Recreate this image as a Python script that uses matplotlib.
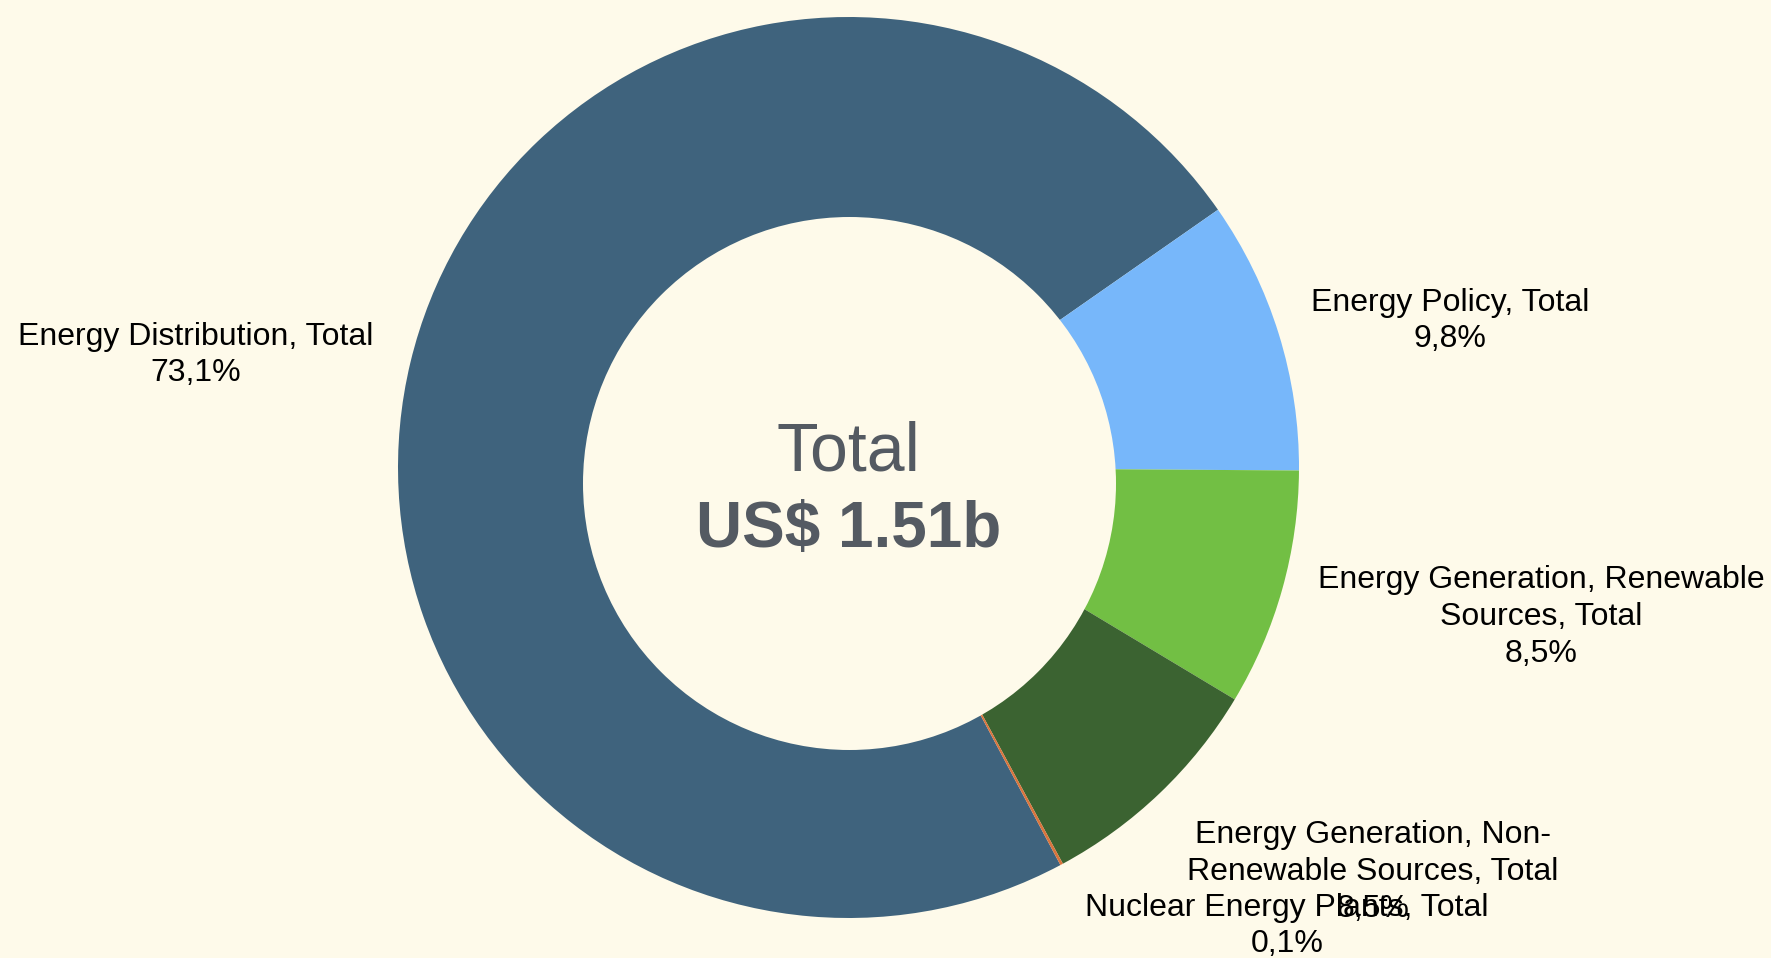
"""
Donut chart: energy spending breakdown, total US$ 1.51b.
"""

import textwrap
import matplotlib
matplotlib.use("Agg")
import matplotlib.pyplot as plt
from matplotlib.patches import Circle

# Data
categories = [
    "Energy Distribution, Total",
    "Energy Policy, Total",
    "Energy Generation, Renewable Sources, Total",
    "Energy Generation, Non-Renewable Sources, Total",
    "Nuclear Energy Plants, Total",
]
shares = [73.1, 9.8, 8.5, 8.5, 0.1]  # percent
total_label = "US$ 1.51b"

# Style constants
W, H = 1771, 958
BG_COLOR = "#fefaea"
SLICE_COLORS = ["#3f637d", "#77b7fa", "#72bf44", "#3b6331", "#d9743d"]
CENTER_TEXT_COLOR = "#545a62"
FONT = ["Liberation Sans", "DejaVu Sans"]

# Layout (pixel coords, y measured from top)
PIE_CENTER = (848.5, 467.5)
PIE_RADIUS = 450.5
HOLE_CENTER = (849.5, 483.5)
HOLE_RADIUS = 266.5
FIRST_SLICE_END = 34.9  # degrees, where the first slice ends (clockwise)
LABEL_POS = [(196, 355), (1450, 321), (1541, 617), (1373, 872), (1287, 926)]

plt.rcParams["font.family"] = FONT

fig = plt.figure(figsize=(W / 100, H / 100), dpi=100)
fig.patch.set_facecolor(BG_COLOR)
ax = fig.add_axes([0, 0, 1, 1])
ax.set_facecolor(BG_COLOR)

start = FIRST_SLICE_END + 360 * shares[0] / sum(shares)
ax.pie(
    shares,
    colors=SLICE_COLORS,
    startangle=start,
    counterclock=False,
    center=(PIE_CENTER[0], H - PIE_CENTER[1]),
    radius=PIE_RADIUS,
    wedgeprops=dict(linewidth=0),
)
ax.add_patch(Circle((HOLE_CENTER[0], H - HOLE_CENTER[1]), HOLE_RADIUS,
                    facecolor=BG_COLOR, edgecolor="none", zorder=3))

# Slice labels
for name, pct, (lx, ly) in zip(categories, shares, LABEL_POS):
    text = textwrap.fill(name, width=28) + "\n" + f"{pct:.1f}%".replace(".", ",")
    ax.text(lx, H - ly, text, ha="center", va="center", multialignment="center",
            fontsize=23, color="#000000", linespacing=1.3, zorder=5)

# Centre text
ax.text(848, H - 470, "Total", ha="center", va="baseline",
        fontsize=49, color=CENTER_TEXT_COLOR, zorder=5)
ax.text(849, H - 547, total_label, ha="center", va="baseline",
        fontsize=46, fontweight="bold", color=CENTER_TEXT_COLOR, zorder=5)

ax.set_xlim(0, W)
ax.set_ylim(0, H)
ax.set_aspect("equal")
ax.axis("off")

fig.savefig("out.png", dpi=100, facecolor=BG_COLOR)
plt.close(fig)
